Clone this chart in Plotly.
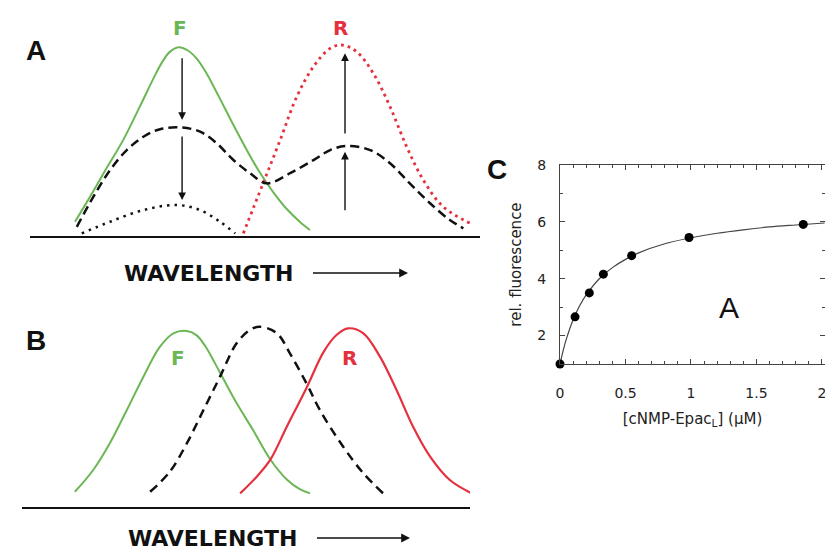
import plotly.graph_objects as go

# ---------------- DATA ----------------
# Panel A: schematic spectra (wavelength a.u. 0-100, intensity a.u.)
a_green_x = [10.0, 12.0, 14.0, 17.0, 20.7, 24.4, 28.0, 29.5, 31.0, 33.0, 35.0, 37.0, 39.0, 42.0, 45.0, 48.0, 51.0, 54.0, 57.0, 60.0, 62.2]
a_green_y = [7.6, 15.5, 23.5, 36.0, 51.0, 68.8, 86.5, 93.0, 97.8, 100.4, 98.8, 94.5, 87.5, 74.0, 60.0, 46.5, 34.0, 23.5, 14.5, 7.5, 3.2]
a_dash_x = [10.4, 14.1, 17.8, 21.5, 25.2, 28.9, 33.3, 37.8, 41.5, 45.2, 48.9, 52.6, 57.8, 63.0, 66.7, 70.4, 75.6, 80.0, 84.4, 88.9, 93.3, 96.3]
a_dash_y = [4.9, 20.9, 35.1, 45.7, 52.8, 56.8, 57.8, 55.5, 49.3, 40.4, 33.4, 28.0, 33.4, 40.4, 45.7, 47.9, 45.7, 38.7, 28.0, 17.4, 8.5, 4.1]
a_dot_x = [11.5, 17.8, 25.2, 32.6, 37.8, 42.2, 45.6]
a_dot_y = [1.4, 7.6, 13.8, 16.5, 13.8, 7.6, 1.4]
a_red_x = [47.4, 51.8, 55.6, 59.3, 63.0, 66.7, 69.3, 72.6, 76.3, 80.0, 83.7, 87.4, 91.8, 97.8]
a_red_y = [1.4, 28.0, 51.1, 74.2, 90.1, 99.8, 101.6, 98.0, 86.5, 68.8, 47.5, 29.8, 15.6, 6.8]
a_arrow_x = [33.8, 33.8, 70.0, 70.0]
a_arrow_tail_y = [95.4, 53.7, 12.9, 53.7]
a_arrow_head_y = [61.7, 19.1, 44.8, 97.2]
a_label_text = ["F", "R"]
a_label_x = [33.3, 68.9]
a_label_y = [110.6, 110.6]

# Panel B: schematic spectra
b_green_x = [11.8, 15.9, 19.6, 23.4, 27.1, 30.8, 33.8, 36.8, 39.0, 41.0, 43.0, 45.0, 47.9, 51.6, 55.4, 59.1, 62.0, 64.3]
b_green_y = [8.5, 20.9, 36.1, 55.0, 74.0, 91.1, 98.7, 100.0, 97.5, 91.0, 82.0, 72.5, 59.0, 43.5, 27.0, 15.5, 10.0, 7.6]
b_dash_x = [28.6, 33.0, 36.8, 40.5, 44.2, 47.9, 50.9, 53.1, 56.9, 59.8, 63.5, 66.5, 71.7, 76.2, 80.6]
b_dash_y = [8.5, 19.9, 36.1, 55.0, 74.0, 93.0, 100.6, 102.4, 98.7, 87.3, 70.2, 55.0, 34.1, 19.0, 7.6]
b_red_x = [48.7, 52.4, 55.4, 59.1, 63.5, 67.3, 70.2, 72.8, 76.2, 79.9, 83.6, 87.3, 91.1, 95.5, 100.4]
b_red_y = [7.6, 17.1, 26.6, 45.5, 67.6, 88.0, 97.7, 101.5, 98.7, 85.4, 66.4, 45.5, 28.5, 15.2, 7.6]
b_label_text = ["F", "R"]
b_label_x = [34.8, 73.2]
b_label_y = [84.6, 84.6]

# Panel C: binding titration
c_conc = [0, 0.115, 0.224, 0.331, 0.547, 0.985, 1.857]
c_fluo = [1.0, 2.66, 3.50, 4.16, 4.81, 5.45, 5.91]
c_fit_x = [0, 0.025, 0.05, 0.1, 0.15, 0.2, 0.3, 0.4, 0.5, 0.6, 0.8, 1.0, 1.2, 1.4, 1.6, 1.8, 2.02]
c_fit_y = [1.0, 1.49, 1.90, 2.56, 3.05, 3.43, 4.00, 4.39, 4.68, 4.91, 5.23, 5.44, 5.60, 5.72, 5.82, 5.89, 5.96]
c_xticks = [0, 0.5, 1, 1.5, 2]
c_xticktext = ["0", "0.5", "1", "1.5", "2"]
c_yticks = [2, 4, 6, 8]

# ---------------- LAYOUT HELPERS ----------------
W, H = 825, 552
def fx(p):
    return p / W
def fy(p):
    return 1 - p / H

GREEN = "#6cb755"
RED = "#e5313d"
BLACK = "#111111"

fig = go.Figure()

# Panel A traces
fig.add_trace(go.Scatter(x=a_green_x, y=a_green_y, mode="lines", line=dict(color=GREEN, width=2, shape="spline"), xaxis="x", yaxis="y"))
fig.add_trace(go.Scatter(x=a_red_x, y=a_red_y, mode="lines", line=dict(color=RED, width=2.8, shape="spline", dash="2.8px,4px"), xaxis="x", yaxis="y"))
fig.add_trace(go.Scatter(x=a_dash_x, y=a_dash_y, mode="lines", line=dict(color=BLACK, width=2.5, shape="spline", dash="9px,5px"), xaxis="x", yaxis="y"))
fig.add_trace(go.Scatter(x=a_dot_x, y=a_dot_y, mode="lines", line=dict(color=BLACK, width=2.5, shape="spline", dash="2.5px,5px"), xaxis="x", yaxis="y"))

# Panel B traces
fig.add_trace(go.Scatter(x=b_green_x, y=b_green_y, mode="lines", line=dict(color=GREEN, width=2, shape="spline"), xaxis="x2", yaxis="y2"))
fig.add_trace(go.Scatter(x=b_dash_x, y=b_dash_y, mode="lines", line=dict(color=BLACK, width=2.5, shape="spline", dash="9px,6px"), xaxis="x2", yaxis="y2"))
fig.add_trace(go.Scatter(x=b_red_x, y=b_red_y, mode="lines", line=dict(color=RED, width=2.2, shape="spline"), xaxis="x2", yaxis="y2"))

# Panel C traces
fig.add_trace(go.Scatter(x=c_fit_x, y=c_fit_y, mode="lines", line=dict(color="#444444", width=1.2, shape="spline"), xaxis="x3", yaxis="y3", cliponaxis=False))
fig.add_trace(go.Scatter(x=c_conc, y=c_fluo, mode="markers", marker=dict(color="black", size=9), xaxis="x3", yaxis="y3", cliponaxis=False))

annotations = []
# arrows in panel A
for xa, yt, yh in zip(a_arrow_x, a_arrow_tail_y, a_arrow_head_y):
    annotations.append(dict(x=xa, y=yh, ax=xa, ay=yt, xref="x", yref="y", axref="x", ayref="y",
                            text="", showarrow=True, arrowhead=2, arrowsize=1.1, arrowwidth=1.4, arrowcolor=BLACK))
for t, xl, yl in zip(a_label_text, a_label_x, a_label_y):
    annotations.append(dict(x=xl, y=yl, xref="x", yref="y", text=f"<b>{t}</b>", showarrow=False,
                            font=dict(family="DejaVu Sans", size=20, color=GREEN if t == "F" else RED)))
for t, xl, yl in zip(b_label_text, b_label_x, b_label_y):
    annotations.append(dict(x=xl, y=yl, xref="x2", yref="y2", text=f"<b>{t}</b>", showarrow=False,
                            font=dict(family="DejaVu Sans", size=20, color=GREEN if t == "F" else RED)))

# WAVELENGTH labels, each with its arrow pointing to the right
for cx, cy, tipx in [(208, 273, 408), (212, 538, 410)]:
    annotations.append(dict(x=fx(tipx), y=fy(cy), xref="paper", yref="paper", ax=cx - tipx, ay=0,
                            text="<b>WAVELENGTH</b>", showarrow=True, arrowhead=2, arrowsize=1.1,
                            arrowwidth=1.6, arrowcolor=BLACK, borderpad=20,
                            font=dict(family="DejaVu Sans", size=22, color=BLACK)))

# panel letters
for t, cx, cy in [("A", 24, 33), ("B", 24, 340), ("C", 497, 152)]:
    annotations.append(dict(x=fx(cx), y=fy(cy), xref="paper", yref="paper", text=f"<b>{t}</b>", showarrow=False,
                            font=dict(family="Liberation Sans, Arial", size=28, color=BLACK)))

# big "A" inside panel C
annotations.append(dict(x=1.29, y=2.98, xref="x3", yref="y3", text="A", showarrow=False,
                        font=dict(family="Liberation Sans, Arial", size=30, color="#111111")))

hidden_y = dict(visible=False, showgrid=False, zeroline=False, fixedrange=True, automargin=False)
base_x = dict(showline=True, linecolor=BLACK, linewidth=2, showticklabels=False, ticks="", showgrid=False,
              zeroline=False, fixedrange=True, automargin=False)

tick_font = dict(family="DejaVu Sans", size=14, color="#222222")
title_font = dict(family="DejaVu Sans", size=15, color="#222222")

fig.update_layout(
    template="none",
    width=W, height=H,
    margin=dict(l=0, r=0, t=0, b=0, pad=0),
    paper_bgcolor="white", plot_bgcolor="white",
    showlegend=False,
    xaxis=dict(domain=[fx(30), fx(480)], range=[0, 100], anchor="y", **base_x),
    yaxis=dict(domain=[fy(236), fy(15)], range=[0, 117.55], anchor="x", **hidden_y),
    xaxis2=dict(domain=[fx(22), fx(470)], range=[0, 100], anchor="y2", **base_x),
    yaxis2=dict(domain=[fy(506.7), fy(310)], range=[0, 111.95], anchor="x2", **hidden_y),
    xaxis3=dict(domain=[fx(560), 1.0], range=[0, 2.023], anchor="y3", automargin=False,
                showline=True, linecolor="#444444", linewidth=1, mirror="ticks",
                ticks="inside", ticklen=5, tickcolor="#444444",
                tickvals=c_xticks, ticktext=c_xticktext, ticklabeloverflow="allow",
                minor=dict(dtick=0.1, tick0=0, ticks="inside", ticklen=3, tickcolor="#444444"),
                showgrid=False, zeroline=False, tickfont=tick_font, ticklabelstandoff=16,
                title=dict(text="[cNMP-Epac<sub>L</sub>] (μM)", font=title_font, standoff=13)),
    yaxis3=dict(domain=[fy(364), fy(165)], range=[1, 8], anchor="x3", automargin=False,
                showline=True, linecolor="#444444", linewidth=1, mirror="ticks",
                ticks="inside", ticklen=5, tickcolor="#444444",
                tickvals=c_yticks,
                minor=dict(dtick=1, tick0=0, ticks="inside", ticklen=3, tickcolor="#444444"),
                showgrid=False, zeroline=False, tickfont=tick_font, ticklabelstandoff=10,
                title=dict(text="rel. fluorescence", font=title_font, standoff=12)),
    annotations=annotations,
)

fig.write_html("out.html", config={"displayModeBar": False},
               post_script="document.body.style.margin='0px';")
